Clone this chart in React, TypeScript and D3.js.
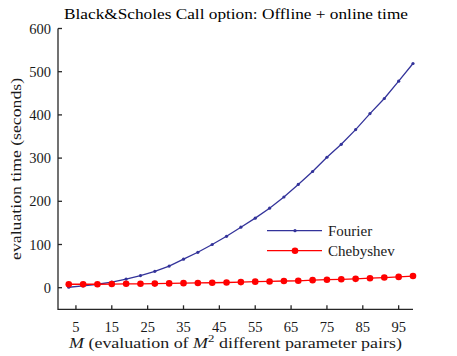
import React from 'react'
import * as d3 from 'd3'

// M values (evaluation grid sizes)
const mValues = [3, 7, 11, 15, 19, 23, 27, 31, 35, 39, 43, 47, 51, 55, 59, 63, 67, 71, 75, 79, 83, 87, 91, 95, 99]
// evaluation time in seconds
const fourierTimes = [1, 4, 8, 13, 20, 28, 38, 50, 66, 82, 100, 119, 140, 161, 184, 210, 239, 269, 302, 332, 366, 403, 438, 478, 519]
const chebyshevTimes = [8, 8, 8, 8.5, 9, 9, 9.5, 10, 10.5, 11, 11.5, 12, 13, 14, 14.5, 15.5, 16, 17.5, 18.5, 19.5, 20.5, 22, 23.5, 25, 27]
const xTicks = [5, 15, 25, 35, 45, 55, 65, 75, 85, 95]
const yTicks = [0, 100, 200, 300, 400, 500, 600]

const W = 457
const H = 356
const font = "'Liberation Serif', 'DejaVu Serif', 'Times New Roman', serif"
const axisColor = '#262626'
const blue = '#33339a'
const red = '#ff0000'

export default function App() {
  const x = d3.scaleLinear().domain([0, 99]).range([58, 413])
  const y = d3.scaleLinear().domain([-50, 600]).range([309.3, 28.5])

  const line = d3.line<number>()
    .x((d, i) => x(mValues[i]))
    .y(d => y(d))

  const txt = { fontFamily: font }

  return (
    <svg width={W} height={H} style={{ position: 'absolute', left: 0, top: 0, background: '#fff', fontFamily: font }}>
      <text x={236} y={19} fontSize={15} textAnchor="middle" textLength={344} lengthAdjust="spacingAndGlyphs"
        fill="#000" style={txt}>Black&amp;Scholes Call option: Offline + online time</text>

      {/* axes */}
      <g stroke={axisColor} strokeWidth={1.3} fill="none">
        <line x1={x(0)} x2={x(0)} y1={y(600)} y2={y(-50) + 0.6} />
        <line x1={x(0)} x2={x(99)} y1={y(-50)} y2={y(-50)} />
        {yTicks.map(t => (
          <line key={'yt' + t} x1={x(0)} x2={x(0) + 4} y1={y(t)} y2={y(t)} />
        ))}
        {xTicks.map(t => (
          <line key={'xt' + t} x1={x(t)} x2={x(t)} y1={y(-50)} y2={y(-50) - 4} />
        ))}
      </g>
      <g fontSize={14.5} fill="#1a1a1a" style={txt}>
        {yTicks.map(t => (
          <text key={'yl' + t} x={51} y={y(t) + 5} textAnchor="end">{t}</text>
        ))}
        {xTicks.map(t => (
          <text key={'xl' + t} x={x(t)} y={331.5} textAnchor="middle">{t}</text>
        ))}
      </g>
      <text x={235.5} y={348} fontSize={14} textAnchor="middle" fill="#1a1a1a" style={txt}
        textLength={333} lengthAdjust="spacingAndGlyphs">
        <tspan fontStyle="italic">M</tspan> (evaluation of <tspan fontStyle="italic">M</tspan>
        <tspan fontSize={10} dy={-6}>2</tspan>
        <tspan dy={6}> different parameter pairs)</tspan>
      </text>
      <text transform={`translate(21,${y(275)}) rotate(-90)`} fontSize={14.5} textAnchor="middle" fill="#1a1a1a"
        style={txt} textLength={182} lengthAdjust="spacingAndGlyphs">evaluation time (seconds)</text>

      {/* series */}
      <path d={line(fourierTimes) ?? ''} fill="none" stroke={blue} strokeWidth={1.3} />
      {fourierTimes.map((v, i) => (
        <circle key={'f' + i} cx={x(mValues[i])} cy={y(v)} r={1.6} fill={blue} />
      ))}
      <path d={line(chebyshevTimes) ?? ''} fill="none" stroke={red} strokeWidth={1.3} />
      {chebyshevTimes.map((v, i) => (
        <circle key={'c' + i} cx={x(mValues[i])} cy={y(v)} r={3.3} fill={red} />
      ))}

      {/* legend */}
      <g style={txt}>
        <line x1={267} x2={322} y1={230.7} y2={230.7} stroke={blue} strokeWidth={1.3} />
        <circle cx={295} cy={230.7} r={1.6} fill={blue} />
        <text x={328} y={235.5} fontSize={15} fill="#1a1a1a">Fourier</text>
        <line x1={267} x2={322} y1={250.7} y2={250.7} stroke={red} strokeWidth={1.3} />
        <circle cx={295} cy={250.7} r={3.3} fill={red} />
        <text x={328} y={255.5} fontSize={15} fill="#1a1a1a">Chebyshev</text>
      </g>
    </svg>
  )
}
